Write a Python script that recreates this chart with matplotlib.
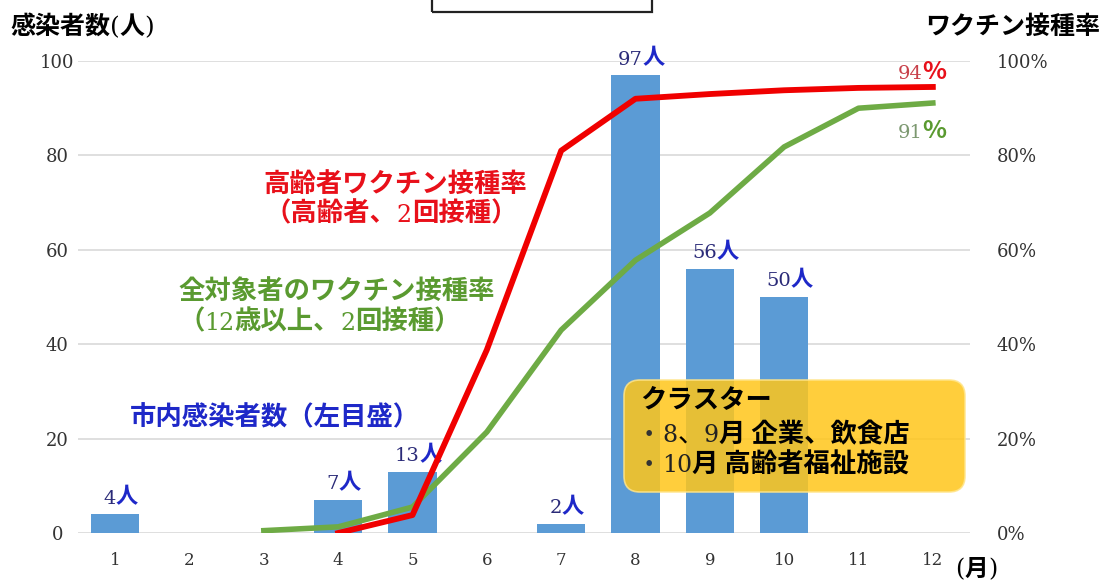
import matplotlib
matplotlib.use('Agg')
import matplotlib.pyplot as plt
from matplotlib.offsetbox import TextArea, HPacker, AnnotationBbox
from matplotlib.patches import FancyBboxPatch, Rectangle

# data
months = list(range(1, 13))
month_labels = [str(m) for m in months]
case_months = [1, 4, 5, 7, 8, 9, 10]
cases = [4, 7, 13, 2, 97, 56, 50]
elderly_months = [4, 5, 6, 7, 8, 9, 10, 11, 12]
elderly_rate = [0, 3.8, 38.8, 81, 92, 93, 93.8, 94.3, 94.5]
all_months = [3, 4, 5, 6, 7, 8, 9, 10, 11, 12]
all_rate = [0.5, 1.3, 5.5, 21.4, 43, 57.8, 67.8, 81.8, 90, 91.1]
left_ticks = [0, 20, 40, 60, 80, 100]
right_ticks = [0, 20, 40, 60, 80, 100]
right_labels = ['0%', '20%', '40%', '60%', '80%', '100%']

CJK = 'Noto Sans CJK JP'
SERIF = 'DejaVu Serif'
plt.rcParams['font.family'] = [SERIF, CJK]

BAR = '#5B9BD5'
RED = '#F00000'
GREEN = '#6EAB45'
RED_T = '#E8101A'
GREEN_T = '#5A9A30'
BLUE_T = '#1E28C8'


def st(size, color='black', family=CJK, weight='bold'):
    return dict(fontsize=size, color=color, fontfamily=family, fontweight=weight)


def rich(ax, xy, parts, coords='figure pixels', align=(0, 0.5), offset=(0, 0)):
    boxes = [TextArea(s, textprops=p) for s, p in parts]
    pack = HPacker(children=boxes, align='baseline', pad=0, sep=0)
    ab = AnnotationBbox(pack, xy, xycoords=coords, xybox=offset,
                        boxcoords='offset points', box_alignment=align,
                        frameon=False, pad=0, annotation_clip=False)
    ab.set_zorder(10)
    ax.add_artist(ab)
    return ab


fig = plt.figure(figsize=(11.16, 5.83), dpi=100)
ax = fig.add_axes((78 / 1116, 50 / 583, 892 / 1116, 472 / 583))
ax2 = ax.twinx()

ax.bar(case_months, cases, width=0.65, color=BAR, zorder=2)
ax.set_xlim(0.5, 12.5)
ax.set_ylim(0, 100)
ax.set_xticks(months)
ax.set_xticklabels(month_labels, fontsize=12, color='#333333', fontfamily=SERIF)
ax.set_yticks(left_ticks)
ax.set_yticklabels([str(t) for t in left_ticks], fontsize=13, color='#333333', fontfamily=SERIF)
for lbl in ax.get_yticklabels():
    lbl.set_horizontalalignment('center')
ax.tick_params(axis='y', length=0, pad=15)
ax.tick_params(axis='x', length=0, pad=14)
ax.yaxis.grid(True, color='#D9D9D9', lw=1.2)
ax.set_axisbelow(True)

ax2.plot(all_months, all_rate, color=GREEN, lw=4, solid_joinstyle='round', zorder=3)
ax2.plot(elderly_months, elderly_rate, color=RED, lw=4.2, solid_joinstyle='round', zorder=4)
ax2.set_ylim(0, 100)
ax2.set_yticks(right_ticks)
ax2.set_yticklabels(right_labels, fontsize=13, color='#333333', fontfamily=SERIF)
ax2.tick_params(axis='y', length=0, pad=19)

for a in (ax, ax2):
    for s in a.spines.values():
        s.set_visible(False)

# value labels above bars
for m, v in zip(case_months, cases):
    rich(ax, (m, v), [(str(v), st(14, '#2A2A78', SERIF, 'normal')),
                      ('人', st(16, BLUE_T))],
         coords='data', align=(0.5, 0), offset=(4, 4))

# end labels of the rate lines
rich(ax2, (12, elderly_rate[-1]), [('94', st(14, '#C8404A', SERIF, 'normal')),
                                   ('%', st(18, RED_T))],
     coords='data', align=(0.5, 0.5), offset=(-8, 11))
rich(ax2, (12, all_rate[-1]), [('91', st(14, '#7C9870', SERIF, 'normal')),
                               ('%', st(18, GREEN_T))],
     coords='data', align=(0.5, 0.5), offset=(-8, -20))

# axis titles
rich(ax2, (10, 556), [('感染者数', st(18)), ('(', st(18, family=SERIF, weight='normal')),
                      ('人', st(18)), (')', st(18, family=SERIF, weight='normal'))])
rich(ax2, (925, 556), [('ワクチン接種率', st(18))])
rich(ax2, (955, 14), [('(', st(17, family=SERIF, weight='normal')), ('月', st(17)),
                      (')', st(17, family=SERIF, weight='normal'))])

# series annotations
rich(ax2, (263, 399), [('高齢者ワクチン接種率', st(19, RED_T))])
rich(ax2, (265, 369), [('（高齢者、', st(19, RED_T)), ('2', st(17, RED_T, SERIF, 'normal')),
                       ('回接種）', st(19, RED_T))])
rich(ax2, (178, 292), [('全対象者のワクチン接種率', st(19, GREEN_T))])
rich(ax2, (178, 261), [('（', st(19, GREEN_T)), ('12', st(17, GREEN_T, SERIF, 'normal')),
                       ('歳以上、', st(19, GREEN_T)), ('2', st(17, GREEN_T, SERIF, 'normal')),
                       ('回接種）', st(19, GREEN_T))])
rich(ax2, (130, 165), [('市内感染者数（左目盛）', st(19, BLUE_T))])

# cluster box
box = FancyBboxPatch(((624 - 78) / 892, (533 - 492) / 472), 341 / 892, 112 / 472,
                     boxstyle='round,pad=0,rounding_size=0.018',
                     mutation_aspect=892 / 472, transform=ax.transAxes,
                     fc='#FFC61A', ec='#FFE58A', lw=1.2, alpha=0.85, zorder=5)
ax.add_patch(box)
rich(ax2, (640, 182), [('クラスター', st(19))])
rich(ax2, (636, 148), [('・', st(19, '#333333', weight='normal')),
                       ('8', st(17, '#222222', SERIF, 'normal')),
                       ('、', st(19, weight='normal')),
                       ('9', st(17, '#222222', SERIF, 'normal')),
                       ('月 企業、飲食店', st(19))])
rich(ax2, (636, 118), [('・', st(19, '#333333', weight='normal')),
                       ('10', st(17, '#222222', SERIF, 'normal')),
                       ('月 高齢者福祉施設', st(19))])

# clipped frame at the top
fig.add_artist(Rectangle((432 / 1116, 571 / 583), 220 / 1116, 0.1,
                         transform=fig.transFigure, fill=False, lw=1.6, ec='#222222'))

fig.savefig('out.png', dpi=100)
